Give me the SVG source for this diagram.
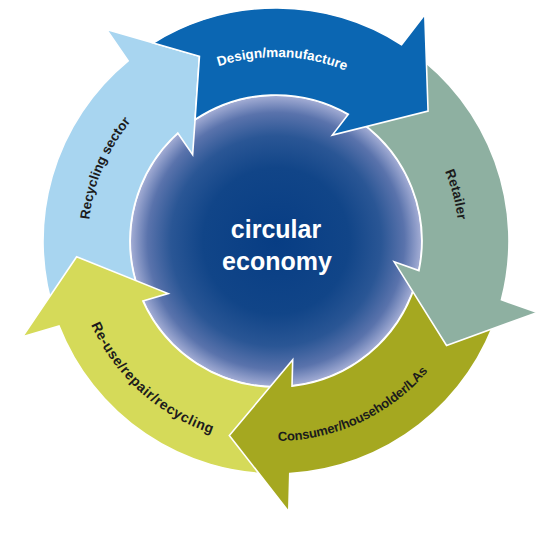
<svg xmlns="http://www.w3.org/2000/svg" xmlns:xlink="http://www.w3.org/1999/xlink" width="560" height="560" viewBox="0 0 560 560">
<style>
.arrow{stroke:#ffffff;stroke-width:1.6;stroke-linejoin:miter}
.lbl{font-family:"Liberation Sans",Arial,sans-serif;font-weight:bold;font-size:13.5px;fill:#1c1c1c}
.white{fill:#ffffff}
.center{font-family:"Liberation Sans",Arial,sans-serif;font-weight:bold;font-size:25px;fill:#ffffff;text-anchor:middle}
</style>
<defs>
<radialGradient id="core" cx="276" cy="241" r="146" gradientUnits="userSpaceOnUse">
<stop offset="0" stop-color="#073d84"/>
<stop offset="0.5" stop-color="#114588"/>
<stop offset="0.72" stop-color="#2a5695"/>
<stop offset="0.88" stop-color="#5a73ac"/>
<stop offset="1" stop-color="#a6afd6"/>
</radialGradient>
<path id="arrow" d="M 89.17 -215.26 A 233 233 0 0 1 232.9 6.57 L 270.78 10.88 L 189.67 63.45 L 119.84 -6.28 L 145.95 -3.31 A 146 146 0 0 0 55.87 -134.89 Z"/>
<path id="tp-design" d="M 92.1 234.6 A 184 184 0 0 1 459.9 247.4"/>
<path id="tp-retailer" d="M 229.7 61.9 A 185 185 0 0 1 322.3 420.1"/>
<path id="tp-consumer" d="M 94.7 325.5 A 200 200 0 0 0 457.3 156.5"/>
<path id="tp-reuse" d="M 125.1 105.2 A 203 203 0 0 0 426.9 376.8"/>
<path id="tp-recycling" d="M 202.5 414.1 A 188 188 0 0 1 349.5 67.9"/>
</defs>
<rect width="560" height="560" fill="#ffffff"/>
<g id="circular-economy">
<circle cx="276" cy="241" r="146" fill="url(#core)" stroke="#ffffff" stroke-width="2"/>
<text class="center" x="276" y="238">circular</text>
<text class="center" x="277" y="270">economy</text>
</g>
<g id="connectors">
<g id="recycling-sector">
<use xlink:href="#arrow" class="arrow" fill="#a8d5f0" transform="translate(276 241) rotate(229)"/>
<text class="lbl" letter-spacing="0"><textPath xlink:href="#tp-recycling" startOffset="50%" text-anchor="middle">Recycling sector</textPath></text>
</g>
<g id="reuse-repair-recycling">
<use xlink:href="#arrow" class="arrow" fill="#d5da59" transform="translate(276 241) rotate(157)"/>
<text class="lbl" style="font-size:14px" letter-spacing="0.55"><textPath xlink:href="#tp-reuse" startOffset="50%" text-anchor="middle">Re-use/repair/recycling</textPath></text>
</g>
<g id="consumer">
<use xlink:href="#arrow" class="arrow" fill="#a5a820" transform="translate(276 241) rotate(85)"/>
<text class="lbl" style="font-size:13px" letter-spacing="-0.15"><textPath xlink:href="#tp-consumer" startOffset="50%" text-anchor="middle">Consumer/householder/LAs</textPath></text>
</g>
<g id="retailer">
<use xlink:href="#arrow" class="arrow" fill="#8eb0a1" transform="translate(276 241) rotate(13)"/>
<text class="lbl" letter-spacing="0.15"><textPath xlink:href="#tp-retailer" startOffset="50%" text-anchor="middle">Retailer</textPath></text>
</g>
<g id="design-manufacture">
<path class="arrow" fill="#0b66b2" transform="translate(276 241) rotate(-59)" d="M 106.56 -207.19 A 233 233 0 0 1 232.9 6.57 L 270.78 10.88 L 189.67 63.45 L 119.84 -6.28 L 145.95 -3.31 A 146 146 0 0 0 62.49 -131.95 L 118.95 -160.78 Z"/>
<text class="lbl white" letter-spacing="0"><textPath xlink:href="#tp-design" startOffset="50%" text-anchor="middle">Design/manufacture</textPath></text>
</g>
</g>
</svg>
